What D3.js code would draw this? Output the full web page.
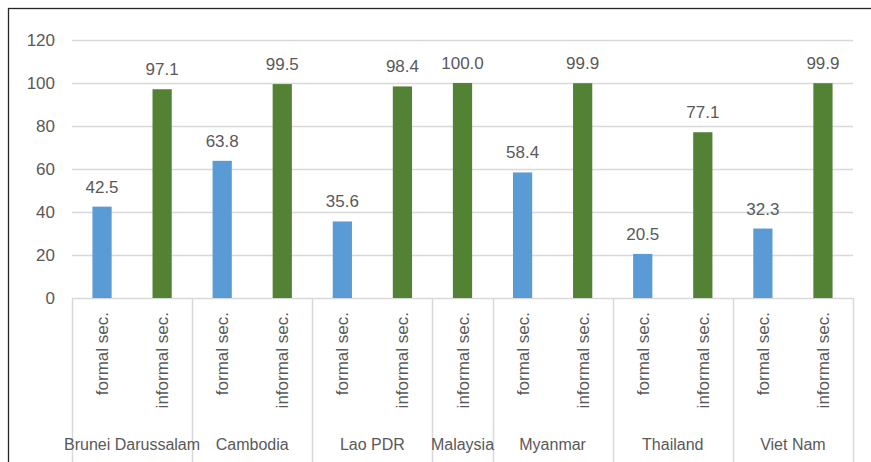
<!DOCTYPE html>
<html>
<head>
<meta charset="utf-8">
<script src="https://cdn.jsdelivr.net/npm/d3@7"></script>
<style>
  body { margin: 0; background: #fff; }
  text { font-family: "Liberation Sans", Arial, sans-serif; fill: #595959; }
</style>
</head>
<body>
<div id="chart"></div>
<script>
// data
var countries = ["Brunei Darussalam", "Cambodia", "Lao PDR", "Malaysia", "Myanmar", "Thailand", "Viet Nam"];
var formalSec = [42.5, 63.8, 35.6, null, 58.4, 20.5, 32.3];
var informalSec = [97.1, 99.5, 98.4, 100.0, 99.9, 77.1, 99.9];
var yTicks = [0, 20, 40, 60, 80, 100, 120];
var subLabels = { formal: "formal sec.", informal: "informal sec." };

var svgWidth = 871;
var svgHeight = 462;
var margin = { top: 40, right: 18, bottom: 164, left: 72 };

var svg = d3.select("#chart")
  .append("svg")
  .attr("width", svgWidth)
  .attr("height", svgHeight);

// outer frame (cut at right/bottom like the screenshot)
svg.append("rect")
  .attr("x", 8.5).attr("y", 8.5)
  .attr("width", svgWidth + 10).attr("height", svgHeight + 10)
  .attr("fill", "none")
  .attr("stroke", "#262626")
  .attr("stroke-width", 1.3);

// flatten into slots
var slots = [];
countries.forEach(function(c, i) {
  if (formalSec[i] != null) slots.push({ id: c + "|f", country: c, kind: "formal", value: formalSec[i] });
  if (informalSec[i] != null) slots.push({ id: c + "|i", country: c, kind: "informal", value: informalSec[i] });
});

var x = d3.scaleBand()
  .domain(slots.map(d => d.id))
  .range([margin.left, svgWidth - margin.right]);

var y = d3.scaleLinear()
  .domain([0, 120])
  .range([svgHeight - margin.bottom, margin.top]);

var barW = x.bandwidth() * 0.32;

// gridlines
svg.append("g")
  .selectAll("line")
  .data(yTicks)
  .enter()
  .append("line")
  .attr("x1", margin.left)
  .attr("x2", svgWidth - margin.right)
  .attr("y1", d => Math.round(y(d)) + 0.5)
  .attr("y2", d => Math.round(y(d)) + 0.5)
  .attr("stroke", "#d9d9d9")
  .attr("stroke-width", 1.5);

// y tick labels
svg.append("g")
  .selectAll("text")
  .data(yTicks)
  .enter()
  .append("text")
  .attr("x", margin.left - 17)
  .attr("y", d => y(d))
  .attr("dy", "0.35em")
  .attr("text-anchor", "end")
  .attr("font-size", "17px")
  .text(d => d);

// group separators
var groups = countries.map(function(c) {
  var s = slots.filter(d => d.country === c);
  var x0 = x(s[0].id);
  var x1 = x(s[s.length - 1].id) + x.bandwidth();
  return { country: c, x0: x0, x1: x1 };
});
var sepX = groups.map(g => g.x0).concat([groups[groups.length - 1].x1]);

svg.append("g")
  .selectAll("line")
  .data(sepX)
  .enter()
  .append("line")
  .attr("x1", d => Math.round(d) + 0.5)
  .attr("x2", d => Math.round(d) + 0.5)
  .attr("y1", y(0))
  .attr("y2", svgHeight)
  .attr("stroke", "#d9d9d9")
  .attr("stroke-width", 1.5);

// bars
svg.append("g")
  .selectAll("rect")
  .data(slots)
  .enter()
  .append("rect")
  .attr("x", d => x(d.id) + (x.bandwidth() - barW) / 2)
  .attr("y", d => y(d.value))
  .attr("width", barW)
  .attr("height", d => y(0) - y(d.value))
  .attr("fill", d => d.kind === "formal" ? "#5b9bd5" : "#548235");

// value labels
svg.append("g")
  .selectAll("text")
  .data(slots)
  .enter()
  .append("text")
  .attr("x", d => x(d.id) + x.bandwidth() / 2)
  .attr("y", d => y(d.value) - 14)
  .attr("text-anchor", "middle")
  .attr("font-size", "17px")
  .text(d => d.value.toFixed(1));

// rotated sub labels
svg.append("g")
  .selectAll("text")
  .data(slots)
  .enter()
  .append("text")
  .attr("transform", d => `translate(${x(d.id) + x.bandwidth() / 2 + 6}, ${y(0) + 14}) rotate(-90)`)
  .attr("text-anchor", "end")
  .attr("font-size", "17px")
  .text(d => subLabels[d.kind]);

// country labels
svg.append("g")
  .selectAll("text")
  .data(groups)
  .enter()
  .append("text")
  .attr("x", d => (d.x0 + d.x1) / 2)
  .attr("y", 450)
  .attr("text-anchor", "middle")
  .attr("font-size", "16px")
  .text(d => d.country);
</script>
</body>
</html>
